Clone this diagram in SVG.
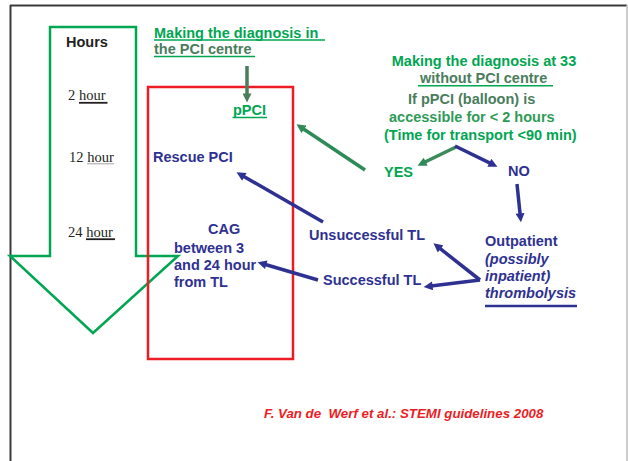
<svg xmlns="http://www.w3.org/2000/svg" width="628" height="461" viewBox="0 0 628 461">
  <style>
    .b { font-family: "Liberation Sans", Arial, sans-serif; font-weight: bold; font-size: 14.5px; }
    .bi { font-family: "Liberation Sans", Arial, sans-serif; font-weight: bold; font-style: italic; font-size: 14.5px; }
    .cite { font-family: "Liberation Sans", Arial, sans-serif; font-weight: bold; font-style: italic; font-size: 13.3px; fill: #ED1C24; }
    .ser { font-family: "Liberation Serif", "Times New Roman", serif; font-size: 14.5px; fill: #231F20; }
    .blue { fill: #2E3192; }
    .grn { fill: #00A651; }
    .dgrn { fill: #4A7D5C; }
    .mgrn { fill: #2E9B57; }
    .conn { fill: none; stroke-width: 3.5; stroke-linecap: butt; }
  </style>
  <defs>
    <marker id="ah-blue" viewBox="0 0 10 10" refX="4" refY="5" markerWidth="10" markerHeight="9" markerUnits="userSpaceOnUse" orient="auto">
      <path d="M0,0 L10,5 L0,10 z" fill="#2E3192"/>
    </marker>
    <marker id="ah-dgrn" viewBox="0 0 10 10" refX="4" refY="5" markerWidth="10" markerHeight="9" markerUnits="userSpaceOnUse" orient="auto">
      <path d="M0,0 L10,5 L0,10 z" fill="#4A7D5C"/>
    </marker>
    <marker id="ah-grn" viewBox="0 0 10 10" refX="4" refY="5" markerWidth="10" markerHeight="9" markerUnits="userSpaceOnUse" orient="auto">
      <path d="M0,0 L10,5 L0,10 z" fill="#2E8B57"/>
    </marker>
  </defs>

  <rect width="628" height="461" fill="#FFFFFF"/>

  <!-- page frame -->
  <g id="frame">
    <line x1="10" y1="5.5" x2="627" y2="5.5" stroke="#3A3A3A" stroke-width="2"/>
    <line x1="10.5" y1="5" x2="10.5" y2="461" stroke="#3A3A3A" stroke-width="2"/>
    <line x1="627" y1="5" x2="627" y2="461" stroke="#BDBDBD" stroke-width="1.5"/>
  </g>

  <!-- time scale arrow -->
  <g id="timeline">
    <polygon points="50,27 136,27 136,256 178,256 93,333 10,256 50,256" fill="none" stroke="#00A651" stroke-width="2.5"/>
    <text x="66" y="47" class="b" fill="#231F20">Hours</text>
    <text x="68" y="100" class="ser">2 hour</text>
    <line x1="79" y1="102.8" x2="107.5" y2="102.8" stroke="#231F20" stroke-width="1.8"/>
    <text x="69" y="162" class="ser">12 hour</text>
    <line x1="87" y1="163.8" x2="114" y2="163.8" stroke="#8A8A8A" stroke-width="0.8"/>
    <text x="68" y="237" class="ser">24 hour</text>
    <line x1="86" y1="239.2" x2="115" y2="239.2" stroke="#231F20" stroke-width="1.8"/>
  </g>

  <!-- PCI centre box -->
  <g id="pci-box">
    <rect x="148" y="87" width="145" height="272" fill="none" stroke="#ED1C24" stroke-width="2.5"/>
  </g>

  <g id="diag-pci-centre">
    <text x="154" y="37.5" class="b grn">Making the diagnosis in</text>
    <line x1="154" y1="40" x2="325" y2="40" stroke="#00A651" stroke-width="1.5"/>
    <text x="154" y="53.5" class="b dgrn">the PCI centre</text>
    <line x1="154" y1="56.5" x2="255" y2="56.5" stroke="#00A651" stroke-width="1.5"/>
  </g>

  <g id="ppci">
    <text x="233" y="114.5" class="b grn">pPCI</text>
    <line x1="232.5" y1="117.5" x2="267" y2="117.5" stroke="#00A651" stroke-width="1.5"/>
  </g>

  <g id="rescue-pci">
    <text x="153" y="161.5" class="b blue">Rescue PCI</text>
  </g>

  <g id="cag">
    <text x="208" y="234" class="b blue">CAG</text>
    <text x="174" y="252.5" class="b blue">between 3</text>
    <text x="174" y="270" class="b blue">and 24 hour</text>
    <text x="174" y="287" class="b blue">from TL</text>
  </g>

  <g id="diag-no-pci">
    <text x="484" y="66" text-anchor="middle" class="b grn">Making the diagnosis at 33</text>
    <text x="420" y="83.3" class="b dgrn">without PCI centre</text>
    <line x1="418" y1="85.8" x2="553" y2="85.8" stroke="#00A651" stroke-width="1.5"/>
    <text x="408" y="103.5" class="b dgrn">If pPCI (balloon) is</text>
    <text x="389" y="121.5" class="b mgrn">accessible for &lt; 2 hours</text>
    <text x="384" y="139.5" class="b grn">(Time for transport &lt;90 min)</text>
  </g>

  <g id="yes">
    <text x="384" y="177" class="b grn">YES</text>
  </g>

  <g id="no">
    <text x="508" y="175.5" class="b blue">NO</text>
  </g>

  <g id="outpatient">
    <text x="485" y="246" class="b blue">Outpatient</text>
    <text x="485" y="263.5" class="bi blue">(possibly</text>
    <text x="485" y="280.5" class="bi blue">inpatient)</text>
    <text x="485" y="297.5" class="bi blue">thrombolysis</text>
    <line x1="485" y1="306" x2="577" y2="306" stroke="#2E3192" stroke-width="2.5"/>
  </g>

  <g id="unsuccessful-tl">
    <text x="309" y="240" class="b blue">Unsuccessful TL</text>
  </g>

  <g id="successful-tl">
    <text x="323" y="284.5" class="b blue">Successful TL</text>
  </g>

  <g id="citation">
    <text x="264" y="418" class="cite" xml:space="preserve">F. Van de  Werf et al.: STEMI guidelines 2008</text>
  </g>

  <!-- connectors -->
  <g id="connectors">
    <line class="conn" x1="247" y1="66" x2="247" y2="97" stroke="#4A7D5C" stroke-width="4" marker-end="url(#ah-dgrn)"/>
    <line class="conn" x1="365" y1="170" x2="301" y2="127.3" stroke="#2E8B57" marker-end="url(#ah-grn)"/>
    <line class="conn" x1="456" y1="147" x2="422.4" y2="163.3" stroke="#3A8A5A" marker-end="url(#ah-grn)"/>
    <line class="conn" x1="455" y1="146" x2="492.6" y2="164.4" stroke="#2E3192" marker-end="url(#ah-blue)"/>
    <line class="conn" x1="517" y1="184" x2="520.4" y2="217" stroke="#2E3192" marker-end="url(#ah-blue)"/>
    <line class="conn" x1="480" y1="280" x2="437.7" y2="246.7" stroke="#2E3192" marker-end="url(#ah-blue)"/>
    <line class="conn" x1="480" y1="280" x2="429" y2="286.3" stroke="#2E3192" marker-end="url(#ah-blue)"/>
    <line class="conn" x1="323" y1="222" x2="241.2" y2="175" stroke="#2E3192" marker-end="url(#ah-blue)"/>
    <line class="conn" x1="318" y1="280" x2="262.8" y2="263.7" stroke="#2E3192" marker-end="url(#ah-blue)"/>
  </g>
</svg>
